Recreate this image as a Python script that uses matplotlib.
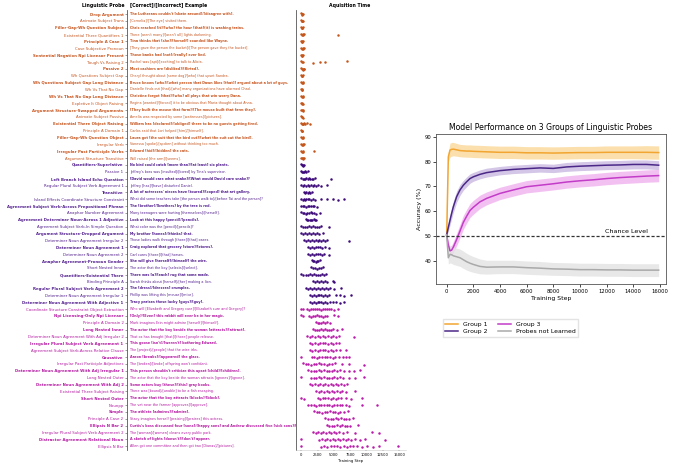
import matplotlib
matplotlib.use("Agg")
import matplotlib.pyplot as plt

# ---- probe table (top to bottom) ----
probes = [
    "Drop Argument", "Animate Subject Trans", "Filler-Gap-Wh Question Subject",
    "Existential There Quantifiers 1", "Principle A Case 1", "Case Subjective Pronoun",
    "Sentential Negation Npi Licensor Present", "Tough Vs Raising 2", "Passive 2",
    "Wh Questions Subject Gap", "Wh Questions Subject Gap Long Distance", "Wh Vs That No Gap",
    "Wh Vs That No Gap Long Distance", "Expletive It Object Raising",
    "Argument Structure-Swapped Arguments", "Animate Subject Passive",
    "Existential There Object Raising", "Principle A Domain 1", "Filler-Gap-Wh Question Object",
    "Irregular Verb", "Irregular Past Participle Verbs", "Argument Structure Transitive",
    "Quantifiers-Superlative", "Passive 1", "Left Branch Island Echo Question",
    "Regular Plural Subject Verb Agreement 1", "Transitive",
    "Island Effects Coordinate Structure Constraint",
    "Agreement Subject Verb-Across Prepositional Phrase", "Anaphor Number Agreement",
    "Agreement Determiner Noun-Across 1 Adjective", "Agreement Subject Verb-In Simple Question",
    "Argument Structure-Dropped Argument", "Determiner Noun Agreement Irregular 2",
    "Determiner Noun Agreement 1", "Determiner Noun Agreement 2",
    "Anaphor Agreement-Pronoun Gender", "Short Nested Inner", "Quantifiers-Existential There",
    "Binding Principle A", "Regular Plural Subject Verb Agreement 2",
    "Determiner Noun Agreement Irregular 1", "Determiner Noun Agreement With Adjective 1",
    "Coordinate Structure Constraint Object Extraction", "Npi Licensing-Only Npi Licensor",
    "Principle A Domain 2", "Long Nested Inner",
    "Determiner Noun Agreement With Adj Irregular 2", "Irregular Plural Subject Verb Agreement 1",
    "Agreement Subject Verb-Across Relative Clause", "Causative",
    "Irregular Past Participle Adjectives", "Determiner Noun Agreement With Adj Irregular 1",
    "Long Nested Outer", "Determiner Noun Agreement With Adj 2",
    "Existential There Subject Raising", "Short Nested Outer", "Nounpp", "Simple",
    "Principle A Case 2", "Ellipsis N Bar 2", "Irregular Plural Subject Verb Agreement 2",
    "Distractor Agreement Relational Noun", "Ellipsis N Bar",
]

examples = [
    "The Lutherans couldn't [skate around]/[disagree with].",
    "[Cornelia]/[The eye] visited them.",
    "Chris reached [it]/[who] the hour [that](it) is washing trains.",
    "There [aren't many]/[aren't all] lights darkening.",
    "Tina thinks that [she]/[herself] sounded like Wayne.",
    "[They gave the person the bucket]/[The person gave they the bucket].",
    "Those banks had [not]/[really] ever lied.",
    "Rachel was [apt]/[exciting] to talk to Alicia.",
    "Most cashiers are [disliked]/[flirted].",
    "Cheryl thought about [some dog]/[who] that upset Sandra.",
    "Bruce knows [who]/[what person that Dawn likes [that]] argued about a lot of guys.",
    "Danielle finds out [that]/[who] many organizations have alarmed Chad.",
    "Christine forgot [that]/[who] all plays that win worry Dana.",
    "Regina [wanted]/[forced] it to be obvious that Maria thought about Anna.",
    "[They built the mouse that farm]/[The mouse built that farm they].",
    "Amelia was respected by some [waitresses]/[pictures].",
    "William has [declared]/[obliged] there to be no guests getting fired.",
    "Carlos said that Lori helped [him]/[himself].",
    "Laura got [the suit that the bird cut]/[what the suit cut the bird].",
    "Vanessa [spoke]/[spoken] without thinking too much.",
    "Edward [hid]/[hidden] the cats.",
    "Will raised [the arm]/[seems].",
    "No bird could catch [more than]/[at least] six plants.",
    "Jeffrey's boss was [insulted]/[bored] by Tina's supervisor.",
    "[David would care what snake]/[What would David care snake]?",
    "Jeffrey [has]/[have] disturbed Daniel.",
    "A lot of actresses' nieces have [toured]/[coped] that art gallery.",
    "What did some teachers take [the person walk to]/[before Tai and the person]?",
    "The [brother]/[brothers] by the tree is red.",
    "Many teenagers were hurting [themselves]/[herself].",
    "Look at this happy [pencil]/[pencils].",
    "What color was the [pencil]/[pencils]?",
    "My brother [hones]/[thinks] that.",
    "Those ladies walk through [those]/[that] oases.",
    "Craig explored that grocery [store]/[stores].",
    "Carl cures [those]/[that] horses.",
    "She will give [herself]/[himself] the wire.",
    "The actor that the boy [selects]/[select].",
    "There was [a]/[each] rug that some made.",
    "Sarah thinks about [herself]/[her] making a lion.",
    "The [dress]/[dresses] crumples.",
    "Phillip was lifting this [mouse]/[mice].",
    "Tracy praises these lucky [guys]/[guy].",
    "Who will [Elizabeth and Gregory cure]/[Elizabeth cure and Gregory]?",
    "[Only]/[Even] this rabbit will ever be in her magic.",
    "Mark imagines Erin might admire [herself]/[himself].",
    "The actor that the boy beside the woman [attracts]/[attract].",
    "That ox has brought [that]/[those] people release.",
    "This goose [isn't]/[weren't] bothering Edward.",
    "The [project]/[people] that the wise irks.",
    "Aaron [breaks]/[appeared] the glass.",
    "The [broken]/[broke] offspring won't confident.",
    "This person shouldn't criticize this upset [child]/[children].",
    "The actor that the boy beside the woman attracts [ignores]/[ignore].",
    "Some actors buy [these]/[this] gray books.",
    "There was [bound]/[unable] to be a fish escaping.",
    "The actor that the boy attracts [blocks]/[block].",
    "The vet near the farmer [approves]/[approve].",
    "The athlete [admires]/[admire].",
    "Stacy imagines herself [praising]/[praises] this actress.",
    "Curtis's boss discussed four [sons]/[happy sons] and Andrew discussed five [sick sons]/[sick].",
    "The [woman]/[women] cleans every public park.",
    "A sketch of lights [doesn't]/[don't] appear.",
    "Allen got one committee and then got two [Dianas]/[pictures].",
]

# acquisition times (training step) per probe, per group
group1_times = [
    [0, 50, 100, 150, 200], [0, 50, 100, 150, 200], [0, 50, 100, 150, 250],
    [0, 100, 200, 300, 400, 5700], [0, 50, 100, 150, 200], [0, 100, 200, 300, 400],
    [0, 50, 100, 150, 200], [0, 100, 200, 1750, 2950, 3700, 7000],
    [0, 100, 200, 300, 400, 500], [0, 50, 100, 150, 200], [0, 100, 200, 300],
    [0, 50, 100, 150], [0, 100, 200, 300], [0, 50, 100, 200], [0, 100, 200, 300],
    [0, 50, 100, 200], [0, 100, 200, 300, 400, 600, 900, 1300], [0, 50, 100, 150],
    [0, 100, 200, 300], [0, 100, 200, 300, 400], [0, 100, 200, 300, 1900],
    [0, 100, 200, 300, 400],
]
group2_times = [
    [0, 100, 200, 300, 400],
    [0, 150, 300, 450, 600, 800, 1000],
    [0, 200, 400, 600, 800, 1000, 1200, 1400, 1600, 1800, 2100, 4500],
    [0, 250, 500, 750, 1000, 1250, 1500, 1750, 2000, 2300, 2600, 3000, 3900],
    [400, 600, 800, 1000, 1200, 1400, 1600],
    [0, 200, 400, 600, 800, 1000, 1200, 1500, 1800, 2100, 3100, 4000, 4800, 5600, 6500],
    [0, 250, 500, 750, 1000, 1250, 1500, 1750, 2000, 2400],
    [0, 200, 450, 700, 950, 1200, 1450, 1700, 1950, 2200, 2900],
    [700, 900, 1100, 1300, 1500, 1700, 1900, 2100, 2300],
    [0, 300, 600, 900, 1200, 1500, 1800, 2100, 2400, 2700, 3100, 4300],
    [0, 300, 600, 900, 1200, 1500, 1800, 2100, 2400, 2700, 3300],
    [400, 700, 1000, 1300, 1600, 1900, 2200, 2500, 2800, 3100, 3400, 3700, 4000, 7400],
    [1100, 1400, 1700, 2000, 2300, 2600, 2900, 3200, 3700, 4200],
    [1100, 1400, 1700, 2000, 2300, 2600, 2900, 3200, 3500, 4300],
    [1600, 1800, 2000, 2200, 2400, 2600, 2900],
    [1500, 1800, 2100, 2400, 2700, 3000, 3300],
    [0, 200, 800, 1100, 1400, 1700, 2000, 2300, 2600, 2900, 3200, 3500, 3800],
    [1800, 2100, 2400, 2700, 3000, 3300, 3600, 3900, 4800, 5000],
    [800, 1100, 1400, 1700, 2000, 2300, 2600, 2900, 3200, 3500, 3800, 4100, 4400, 5100, 6100],
    [1300, 1600, 1900, 2200, 2500, 2800, 3100, 3400, 3700, 4000, 4300, 5300, 5900, 6500, 7700],
    [1300, 1600, 1900, 2200, 2500, 2800, 3100, 3400, 3700, 4000, 4400, 4800, 5400, 5900, 6500],
]
group3_times = [
    [0, 300, 900, 1200, 1500, 1800, 2100, 2400, 2700, 3000, 3300, 3600, 3900, 4200, 4500, 5000, 5700],
    [0, 200, 1200, 1500, 1800, 2100, 2400, 2700, 3000, 3300, 3600, 4000, 5000, 5700],
    [2200, 2500, 2800, 3100, 3400, 3700, 4000, 4400],
    [1800, 2100, 2400, 2700, 3000, 3300, 3600, 3900, 4200, 4500, 4800, 5500, 6200],
    [900, 1300, 1700, 2100, 2500, 2900, 3300, 3700, 4100, 4500, 4900, 5300, 5800, 8100],
    [1300, 1700, 2100, 2500, 2900, 3300, 3700, 4100, 4500, 4900, 5300, 5800],
    [1300, 1700, 2100, 2500, 2900, 3300, 3700, 4100, 4500, 4900, 5400, 6000, 6800],
    [0, 1600, 2000, 2400, 2800, 3200, 3600, 4000, 4400, 4800, 5200, 5800, 6400, 6900, 7300],
    [300, 700, 1100, 1500, 1900, 2300, 2700, 3100, 3500, 3900, 4300, 4700, 5200, 6300, 7400, 9700],
    [1100, 1500, 1900, 2300, 2700, 3100, 3500, 3900, 4300, 4700, 5100, 5500, 6000, 6500, 7400, 8100, 9000],
    [0, 1500, 1900, 2300, 2700, 3100, 3500, 3900, 4300, 4700, 5100, 5500, 6000, 6400, 7400, 8300, 9700],
    [1300, 1700, 2100, 2500, 2900, 3300, 3700, 4100, 4500, 4900, 5300, 5700, 6100, 6600, 7100],
    [2300, 2700, 3100, 3500, 3900, 4300, 4700, 5100, 5500, 5900, 6300, 6800, 8300],
    [0, 500, 2500, 2900, 3300, 3700, 4100, 4500, 4900, 5300, 5700, 6100, 6800, 7700, 9300],
    [1100, 1500, 1900, 2300, 2700, 3100, 3500, 3900, 4300, 4700, 5100, 5500, 5900, 6300, 6800, 7400, 9300, 11600],
    [2000, 2400, 2800, 3200, 3600, 4000, 4400, 4800, 5200, 5600, 6000, 6500, 7200],
    [3700, 4100, 4500, 4900, 5300, 5700, 6100, 6500, 6900, 7300, 7900],
    [3900, 4300, 4700, 5100, 5500, 5900, 6300, 6700, 7100, 7500, 8700],
    [1800, 2200, 2600, 3000, 3400, 3800, 4200, 4600, 5000, 5400, 5800, 6400, 7100, 8300, 10900, 11900],
    [0, 2800, 3200, 3600, 4000, 4400, 4800, 5200, 5600, 6000, 6400, 6800, 7200, 7600, 8300, 9000, 9800, 12800],
    [0, 3000, 3500, 4000, 4500, 5000, 5500, 6000, 6500, 7000, 7500, 8000, 8600, 9300, 10100, 11000, 11900, 14900],
]

# ---- learning curves ----
steps = [0, 125, 250, 375, 500, 750, 1000, 1250, 1500, 1750, 2000, 2500, 3000, 4000,
         5000, 6000, 7000, 8000, 9000, 10000, 11000, 12000, 13000, 14000, 15000, 15900]
g1_acc = [50, 82, 84.7, 85.0, 85.1, 84.8, 84.5, 84.4, 84.3, 84.3, 84.2, 84.1, 84.0, 83.8,
          83.8, 83.6, 83.6, 83.5, 83.6, 83.7, 83.7, 83.8, 83.8, 83.8, 83.8, 83.7]
g2_acc = [50.4, 53.5, 56.4, 59.2, 61.8, 65.9, 68.6, 70.5, 71.9, 73.2, 73.9, 74.9, 75.6, 76.4,
          76.9, 77.2, 77.5, 77.3, 77.9, 78.2, 78.4, 78.6, 78.7, 78.9, 78.9, 78.6]
g3_acc = [50.4, 46.3, 44.0, 44.3, 45.5, 48.6, 52.0, 55.5, 58.0, 60.3, 61.6, 63.8, 65.2, 67.2,
          68.6, 69.9, 70.5, 71.1, 71.8, 72.3, 72.7, 73.2, 73.6, 73.9, 74.2, 74.4]
nl_acc = [50.4, 41.2, 42.6, 42.4, 42.0, 41.6, 41.2, 40.4, 39.6, 39.0, 38.5, 37.7, 37.4, 37.5,
          37.5, 37.2, 37.0, 36.7, 36.6, 36.4, 36.4, 36.3, 36.3, 36.2, 36.2, 36.2]
g1_sd = [0.5, 2.0, 2.8, 2.8, 2.7, 2.6, 2.5, 2.5, 2.5, 2.5, 2.5, 2.5, 2.5, 2.5,
         2.5, 2.5, 2.5, 2.5, 2.5, 2.5, 2.5, 2.6, 2.6, 2.6, 2.7, 2.7]
g2_sd = [0.5, 1.5, 2.0, 2.2, 2.3, 2.3, 2.2, 2.0, 2.0, 1.9, 1.8, 1.8, 1.8, 1.7,
         1.7, 1.7, 1.7, 1.7, 1.8, 1.8, 1.8, 1.8, 1.8, 1.8, 1.8, 1.8]
g3_sd = [0.5, 1.5, 1.8, 2.0, 2.2, 2.5, 2.7, 2.8, 2.8, 2.8, 2.8, 2.7, 2.6, 2.5,
         2.5, 2.5, 2.5, 2.5, 2.5, 2.5, 2.5, 2.5, 2.5, 2.5, 2.5, 2.5]
nl_sd = [0.5, 2.5, 3.5, 3.5, 3.5, 3.5, 3.5, 3.5, 3.4, 3.3, 3.2, 3.0, 2.8, 2.7,
         2.7, 2.7, 2.7, 2.6, 2.6, 2.6, 2.6, 2.6, 2.6, 2.6, 2.6, 2.6]

text_colors = ["#c8561f", "#54208f", "#b51aa2"]
dot_colors = ["#c4561c", "#3d0a7a", "#b81ca8"]

W, H = 680, 465
fig = plt.figure(figsize=(6.8, 4.65), dpi=100)

ybot = 1 - 450.4 / H
yh = 440.5 / H
ax_tab = fig.add_axes([127 / W, ybot, (296 - 127) / W, yh])
ax_dot = fig.add_axes([296 / W, ybot, (405.5 - 296) / W, yh])
ax = fig.add_axes([436 / W, 1 - 284 / H, 230 / W, 150 / H])

n = len(probes)
groups = [group1_times, group2_times, group3_times]
row_group = []
for gi, g in enumerate(groups):
    row_group += [gi] * len(g)

# table part
ax_tab.set_xlim(0, 1)
ax_tab.set_ylim(n - 0.4, -0.6)
ax_tab.set_xticks([])
ax_tab.set_yticks(range(n))
ax_tab.set_yticklabels(probes, fontsize=2.8)
ax_tab.tick_params(axis="y", length=1.5, width=0.4, pad=1, color="#555")
for sp in ["top", "right", "bottom"]:
    ax_tab.spines[sp].set_visible(False)
ax_tab.spines["left"].set_color("#555")
ax_tab.spines["left"].set_linewidth(0.6)
for i, lab in enumerate(ax_tab.get_yticklabels()):
    lab.set_color(text_colors[row_group[i]])
    lab.set_fontweight("bold" if i % 2 == 0 else "normal")
for i, ex in enumerate(examples):
    ax_tab.text(0.018, i, ex, fontsize=2.4, va="center", ha="left",
                color=text_colors[row_group[i]],
                fontweight="bold" if i % 2 == 0 else "normal", clip_on=True)

fig.text(124 / W, 1 - 5 / H, "Linguistic Probe", fontsize=3.3, fontweight="bold",
         ha="right", va="center")
fig.text(130 / W, 1 - 5 / H, "[Correct]/[Incorrect] Example", fontsize=3.3,
         fontweight="bold", ha="left", va="center")
fig.text(350 / W, 1 - 5 / H, "Aquisition Time", fontsize=3.3, fontweight="bold",
         ha="center", va="center")

# acquisition strip plot
jit = [-0.08, 0.05, -0.02, 0.09, -0.05, 0.02]
row = 0
for gi, g in enumerate(groups):
    for times in g:
        ys = [row + jit[k % len(jit)] for k in range(len(times))]
        ax_dot.scatter(times, ys, s=3.2, color=dot_colors[gi], linewidths=0)
        row += 1
ax_dot.set_xlim(-800, 16000)
ax_dot.set_ylim(n - 0.4, -0.6)
ax_dot.set_yticks([])
ax_dot.set_xticks([0, 2500, 5000, 7500, 10000, 12500, 15000])
ax_dot.tick_params(axis="x", labelsize=2.7, length=1, width=0.3, pad=1)
ax_dot.set_xlabel("Training Step", fontsize=2.7, labelpad=1)
for sp in ["top", "right"]:
    ax_dot.spines[sp].set_visible(False)
ax_dot.spines["left"].set_color("#555")
ax_dot.spines["left"].set_linewidth(0.6)
ax_dot.spines["bottom"].set_color("#cccccc")
ax_dot.spines["bottom"].set_linewidth(0.4)

# learning curves
curves = [
    ("Group 1", g1_acc, g1_sd, "#f2a530", "#fbd99a"),
    ("Group 2", g2_acc, g2_sd, "#4b2888", "#c9b8e0"),
    ("Group 3", g3_acc, g3_sd, "#c23cc8", "#f0b2ee"),
    ("Probes not Learned", nl_acc, nl_sd, "#a9a9a9", "#e3e3e3"),
]
handles = {}
for name, acc, sd, lc, fc in curves:
    lo = [a - s for a, s in zip(acc, sd)]
    hi = [a + s for a, s in zip(acc, sd)]
    ax.fill_between(steps, lo, hi, color=fc, alpha=0.8, linewidth=0)
    handles[name], = ax.plot(steps, acc, color=lc, linewidth=1.1, label=name)

ax.axhline(50, color="#333333", linestyle="--", linewidth=0.9, dashes=(2.5, 1.5))
ax.text(13500, 50.7, "Chance Level", fontsize=4.6, ha="center", va="bottom")
ax.set_xlim(-800, 16450)
ax.set_ylim(30.6, 91.2)
ax.set_xticks(range(0, 16001, 2000))
ax.set_yticks([40, 50, 60, 70, 80, 90])
ax.tick_params(labelsize=3.8, length=2, width=0.5, pad=1.5)
ax.set_title("Model Performance on 3 Groups of Linguistic Probes", fontsize=5.6, pad=3)
ax.set_xlabel("Training Step", fontsize=4.4, labelpad=1.5)
ax.set_ylabel("Accuracy (%)", fontsize=4.6, labelpad=2)
for sp in ax.spines.values():
    sp.set_linewidth(0.6)
    sp.set_color("#555")

order = ["Group 1", "Group 2", "Group 3", "Probes not Learned"]
ax.legend([handles[k] for k in order], order, ncol=2, fontsize=4.4,
          loc="upper left", bbox_to_anchor=(0.015, -0.215), frameon=True,
          edgecolor="#dddddd", fancybox=False, handlelength=2.2, columnspacing=1.6,
          borderpad=0.4, labelspacing=0.3)

fig.savefig("out.png", dpi=100)
